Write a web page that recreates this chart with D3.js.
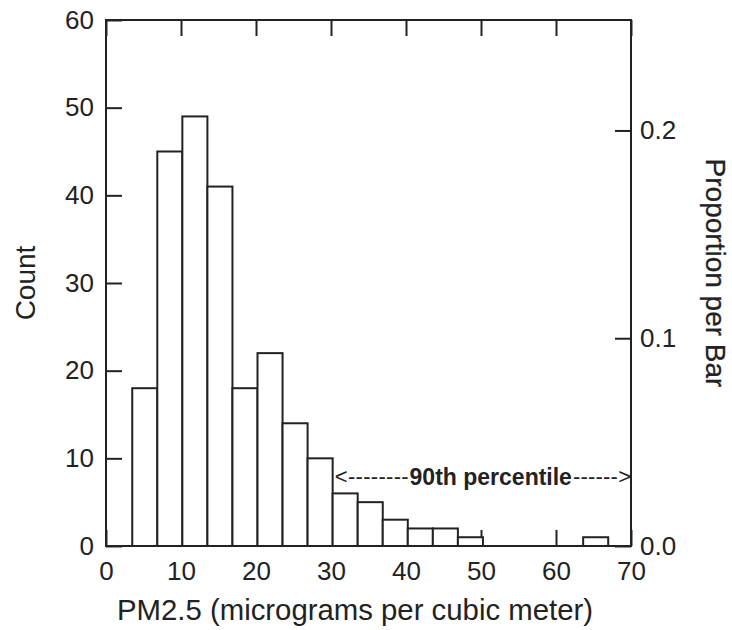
<!DOCTYPE html>
<html>
<head>
<meta charset="utf-8">
<script src="https://cdn.jsdelivr.net/npm/d3@7"></script>
<style>
  body { margin: 0; background: #fff; }
  svg text { font-family: Arial, "Liberation Sans", sans-serif; fill: #222; }
</style>
</head>
<body>
<svg id="chart" width="732" height="630"></svg>
<script>
// histogram of PM2.5 readings
const binEdges = [3.5, 6.84, 10.18, 13.52, 16.86, 20.2, 23.54, 26.88, 30.22, 33.56, 36.9, 40.24, 43.58, 46.92, 50.26, 53.6, 56.94, 60.28, 63.62, 66.96];
const counts = [18, 45, 49, 41, 18, 22, 14, 10, 6, 5, 3, 2, 2, 1, 0, 0, 0, 0, 1];
const xTicks = [0, 10, 20, 30, 40, 50, 60, 70];
const countTicks = [0, 10, 20, 30, 40, 50, 60];
const propTicks = [0, 0.1, 0.2];
const pctStart = 30.5, pctEnd = 70, pctLevel = 7.9;

const margin = {left: 106, top: 20, right: 101, bottom: 84};
const width = 732 - margin.left - margin.right;
const height = 630 - margin.top - margin.bottom;
const tickLen = 16;

const svg = d3.select("#chart");
const g = svg.append("g").attr("transform", `translate(${margin.left},${margin.top})`);

const x = d3.scaleLinear().domain([0, 70]).range([0, width]);
const y = d3.scaleLinear().domain([0, 60]).range([height, 0]);
const total = d3.sum(counts);
const yProp = d3.scaleLinear().domain([0, 60 / total]).range([height, 0]);

function styleAxis(sel, size) {
    sel.select(".domain").remove();
    sel.selectAll("line").attr("stroke", "#222").attr("stroke-width", 2);
    sel.selectAll("text").attr("font-size", size).attr("fill", "#222")
        .attr("font-family", "Arial, 'Liberation Sans', sans-serif");
}

// ticks first, bars cover them
g.append("g").attr("transform", `translate(0,${height})`)
    .call(d3.axisBottom(x).tickValues(xTicks).tickSize(-tickLen).tickPadding(16))
    .call(s => styleAxis(s, 26));
g.append("g")
    .call(d3.axisTop(x).tickValues(xTicks).tickSize(-tickLen).tickFormat(""))
    .call(s => styleAxis(s, 26));
g.append("g")
    .call(d3.axisLeft(y).tickValues(countTicks).tickSize(-tickLen).tickPadding(12))
    .call(s => styleAxis(s, 26));
g.append("g").attr("transform", `translate(${width},0)`)
    .call(d3.axisRight(yProp).tickValues(propTicks).tickSize(-tickLen).tickPadding(9).tickFormat(d3.format(".1f")))
    .call(s => styleAxis(s, 26));

const bins = counts.map((c, i) => ({x0: binEdges[i], x1: binEdges[i + 1], n: c})).filter(d => d.n > 0);
g.selectAll("rect.bar").data(bins).enter().append("rect").attr("class", "bar")
    .attr("x", d => x(d.x0)).attr("width", d => x(d.x1) - x(d.x0))
    .attr("y", d => y(d.n)).attr("height", d => y(0) - y(d.n))
    .attr("fill", "#fff").attr("stroke", "#222").attr("stroke-width", 2);

// frame
g.append("rect").attr("width", width).attr("height", height)
    .attr("fill", "none").attr("stroke", "#222").attr("stroke-width", 2);

// 90th percentile marker
const ay = y(pctLevel);
const midX = x(51.3);
const mid = g.append("text").attr("y", ay).attr("dy", "0.35em")
    .attr("font-size", 23).attr("font-weight", "bold").attr("text-anchor", "middle")
    .attr("x", midX).text("90th percentile");
const midW = mid.node().getComputedTextLength();
const midL = midX - midW / 2, midR = midX + midW / 2;
g.append("text").attr("x", x(pctStart)).attr("y", ay).attr("dy", "0.35em")
    .attr("font-size", 22).attr("fill", "#444")
    .attr("textLength", midL - x(pctStart) - 1).attr("lengthAdjust", "spacing")
    .text("<--------");
g.append("text").attr("x", midR + 1).attr("y", ay).attr("dy", "0.35em")
    .attr("font-size", 22).attr("fill", "#444")
    .attr("textLength", x(pctEnd) - midR - 1).attr("lengthAdjust", "spacing")
    .text("------>");

// axis titles
svg.append("text").attr("x", 355).attr("y", 620).attr("text-anchor", "middle")
    .attr("font-size", 29).attr("textLength", 476).attr("lengthAdjust", "spacingAndGlyphs")
    .text("PM2.5 (micrograms per cubic meter)");
svg.append("text").attr("transform", `translate(35,${margin.top + height / 2}) rotate(-90)`)
    .attr("text-anchor", "middle").attr("font-size", 28).text("Count");
svg.append("text").attr("transform", `translate(706,273) rotate(90)`)
    .attr("text-anchor", "middle").attr("font-size", 28)
    .attr("stroke", "#222").attr("stroke-width", 0.3).text("Proportion per Bar");
</script>
</body>
</html>
